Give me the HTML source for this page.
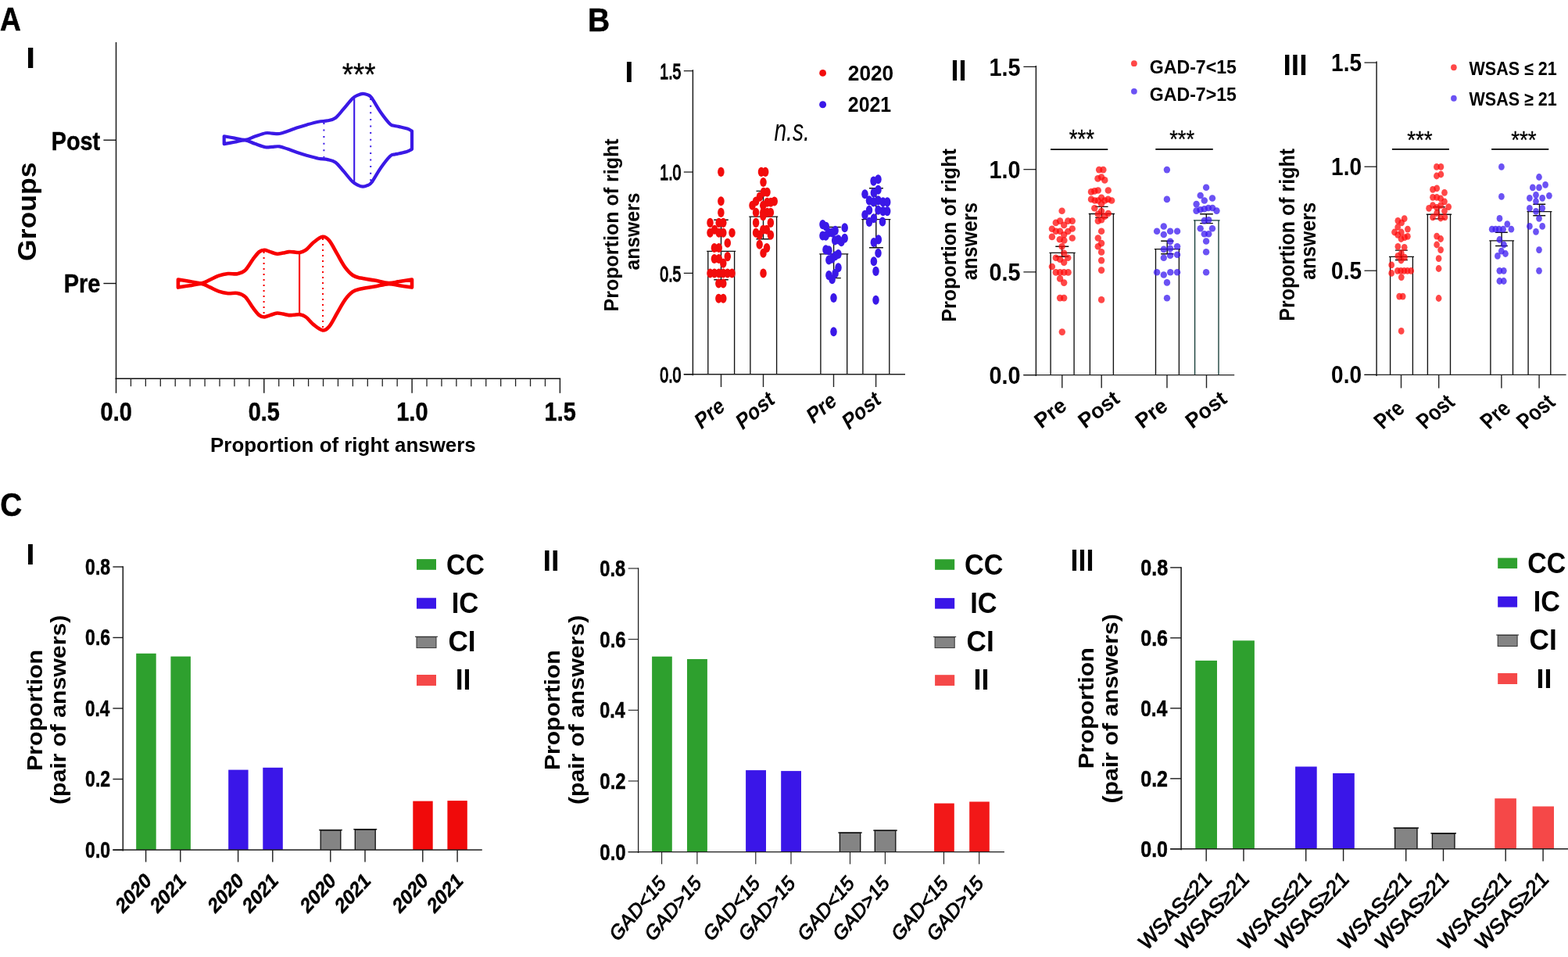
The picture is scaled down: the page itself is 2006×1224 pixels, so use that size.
<!DOCTYPE html>
<html lang="en"><head><meta charset="utf-8"><title>Figure</title>
<style>
html,body{margin:0;padding:0;background:#fff;}
body{width:2006px;height:1224px;overflow:hidden;}
svg{display:block;}
svg{font-family:"Liberation Sans",Arial,Helvetica,sans-serif;}
</style></head><body>
<svg xmlns="http://www.w3.org/2000/svg" width="2006" height="1224" viewBox="0 0 2006 1224" font-family="Liberation Sans, Arial, Helvetica, sans-serif" font-weight="bold" fill="#000">
<g id="panelA">
<text transform="translate(-0.07,39) scale(0.87,1)" font-size="42.62" stroke="#000" stroke-width="0.6">A</text>
<text transform="translate(33.02,87.1) scale(1.17,1)" font-size="37.67">I</text>
<path d="M148.5 54L148.5 484.95" fill="none" stroke="#111" stroke-width="1.4" />
<path d="M147.5 484.3L717.2 484.3" fill="none" stroke="#111" stroke-width="1.4" />
<path d="M148.5 484.3L148.5 502.8" fill="none" stroke="#111" stroke-width="1.4" />
<path d="M167.43 484.3L167.43 494.2" fill="none" stroke="#222" stroke-width="1.3" />
<path d="M186.36 484.3L186.36 494.2" fill="none" stroke="#222" stroke-width="1.3" />
<path d="M205.29 484.3L205.29 494.2" fill="none" stroke="#222" stroke-width="1.3" />
<path d="M224.22 484.3L224.22 494.2" fill="none" stroke="#222" stroke-width="1.3" />
<path d="M243.15 484.3L243.15 494.2" fill="none" stroke="#222" stroke-width="1.3" />
<path d="M262.08 484.3L262.08 494.2" fill="none" stroke="#222" stroke-width="1.3" />
<path d="M281.01 484.3L281.01 494.2" fill="none" stroke="#222" stroke-width="1.3" />
<path d="M299.94 484.3L299.94 494.2" fill="none" stroke="#222" stroke-width="1.3" />
<path d="M318.87 484.3L318.87 494.2" fill="none" stroke="#222" stroke-width="1.3" />
<path d="M337.8 484.3L337.8 502.8" fill="none" stroke="#111" stroke-width="1.4" />
<path d="M356.73 484.3L356.73 494.2" fill="none" stroke="#222" stroke-width="1.3" />
<path d="M375.66 484.3L375.66 494.2" fill="none" stroke="#222" stroke-width="1.3" />
<path d="M394.59 484.3L394.59 494.2" fill="none" stroke="#222" stroke-width="1.3" />
<path d="M413.52 484.3L413.52 494.2" fill="none" stroke="#222" stroke-width="1.3" />
<path d="M432.45 484.3L432.45 494.2" fill="none" stroke="#222" stroke-width="1.3" />
<path d="M451.38 484.3L451.38 494.2" fill="none" stroke="#222" stroke-width="1.3" />
<path d="M470.31 484.3L470.31 494.2" fill="none" stroke="#222" stroke-width="1.3" />
<path d="M489.24 484.3L489.24 494.2" fill="none" stroke="#222" stroke-width="1.3" />
<path d="M508.17 484.3L508.17 494.2" fill="none" stroke="#222" stroke-width="1.3" />
<path d="M527.1 484.3L527.1 502.8" fill="none" stroke="#111" stroke-width="1.4" />
<path d="M546.03 484.3L546.03 494.2" fill="none" stroke="#222" stroke-width="1.3" />
<path d="M564.96 484.3L564.96 494.2" fill="none" stroke="#222" stroke-width="1.3" />
<path d="M583.89 484.3L583.89 494.2" fill="none" stroke="#222" stroke-width="1.3" />
<path d="M602.82 484.3L602.82 494.2" fill="none" stroke="#222" stroke-width="1.3" />
<path d="M621.75 484.3L621.75 494.2" fill="none" stroke="#222" stroke-width="1.3" />
<path d="M640.68 484.3L640.68 494.2" fill="none" stroke="#222" stroke-width="1.3" />
<path d="M659.61 484.3L659.61 494.2" fill="none" stroke="#222" stroke-width="1.3" />
<path d="M678.54 484.3L678.54 494.2" fill="none" stroke="#222" stroke-width="1.3" />
<path d="M697.47 484.3L697.47 494.2" fill="none" stroke="#222" stroke-width="1.3" />
<path d="M716.4 484.3L716.4 502.8" fill="none" stroke="#111" stroke-width="1.4" />
<path d="M132.4 179.2L148.5 179.2" fill="none" stroke="#111" stroke-width="1.4" />
<path d="M132.4 362.5L148.5 362.5" fill="none" stroke="#111" stroke-width="1.4" />
<text transform="translate(65.86,191.51) scale(0.85,1)" font-size="33.84" stroke="#000" stroke-width="0.5">Post</text>
<text transform="translate(81.66,374.42) scale(0.87,1)" font-size="33.26" stroke="#000" stroke-width="0.5">Pre</text>
<text transform="translate(45.87,333.92) rotate(-90) scale(1.08,1)" font-size="32.93">Groups</text>
<text transform="translate(128.56,538.41) scale(0.86,1)" font-size="33.64" stroke="#000" stroke-width="0.5">0.0</text>
<text transform="translate(317.66,538.41) scale(0.86,1)" font-size="33.64" stroke="#000" stroke-width="0.5">0.5</text>
<text transform="translate(507.26,538.41) scale(0.86,1)" font-size="33.64" stroke="#000" stroke-width="0.5">1.0</text>
<text transform="translate(696.56,538.41) scale(0.86,1)" font-size="33.64" stroke="#000" stroke-width="0.5">1.5</text>
<text transform="translate(269.05,577.78) scale(0.98,1)" font-size="26.45">Proportion of right answers</text>
<text transform="translate(437.79,108.75) scale(0.91,1)" font-size="40.29" font-weight="normal" stroke="#000" stroke-width="0.3">***</text>
<path d="M286.7 174.3C288.92 174.68 295.5 175.83 300 176.6C304.5 177.37 309.37 179.23 313.7 178.9C318.03 178.57 321.68 176.05 326 174.6C330.32 173.15 335.93 170.87 339.6 170.2C343.27 169.53 345.02 170.47 348 170.6C350.98 170.73 354.17 171.47 357.5 171C360.83 170.53 364.33 169.03 368 167.8C371.67 166.57 375.33 165 379.5 163.6C383.67 162.2 388.35 160.72 393 159.4C397.65 158.08 403.02 156.55 407.4 155.7C411.78 154.85 415.65 155.13 419.3 154.3C422.95 153.47 425.97 153.13 429.3 150.7C432.63 148.27 435.65 143.85 439.3 139.7C442.95 135.55 448.08 128.82 451.2 125.8C454.32 122.78 455.83 122.6 458 121.6C460.17 120.6 462.2 119.87 464.2 119.8C466.2 119.73 468.17 120.37 470 121.2C471.83 122.03 472.35 121.05 475.2 124.8C478.05 128.55 483.12 138.05 487.1 143.7C491.08 149.35 496.12 155.83 499.1 158.7C502.08 161.57 503 160.33 505 160.9C507 161.47 508.43 161.48 511.1 162.1C513.77 162.72 518.35 163.68 521 164.6C523.65 165.52 526 167.1 527 167.6L527 190.8C526 191.3 523.65 192.88 521 193.8C518.35 194.72 513.77 195.68 511.1 196.3C508.43 196.92 507 196.93 505 197.5C503 198.07 502.08 196.83 499.1 199.7C496.12 202.57 491.08 209.05 487.1 214.7C483.12 220.35 478.05 229.85 475.2 233.6C472.35 237.35 471.83 236.37 470 237.2C468.17 238.03 466.2 238.67 464.2 238.6C462.2 238.53 460.17 237.8 458 236.8C455.83 235.8 454.32 235.62 451.2 232.6C448.08 229.58 442.95 222.85 439.3 218.7C435.65 214.55 432.63 210.13 429.3 207.7C425.97 205.27 422.95 204.93 419.3 204.1C415.65 203.27 411.78 203.55 407.4 202.7C403.02 201.85 397.65 200.32 393 199C388.35 197.68 383.67 196.2 379.5 194.8C375.33 193.4 371.67 191.83 368 190.6C364.33 189.37 360.83 187.87 357.5 187.4C354.17 186.93 350.98 187.67 348 187.8C345.02 187.93 343.27 188.87 339.6 188.2C335.93 187.53 330.32 185.25 326 183.8C321.68 182.35 318.03 179.83 313.7 179.5C309.37 179.17 304.5 181.03 300 181.8C295.5 182.57 288.92 183.72 286.7 184.1Z" fill="none" stroke="#3a19e6" stroke-width="4.2" stroke-linejoin="round"/>
<path d="M453.2 124.56L453.2 233.84" fill="none" stroke="#3a19e6" stroke-width="2.1" />
<path fill="none" d="M414.4 156.88L414.4 201.52" stroke="#3a19e6" stroke-width="2" stroke-dasharray="2 6.6"/>
<path fill="none" d="M474.2 126.11L474.2 232.29" stroke="#3a19e6" stroke-width="2" stroke-dasharray="2 6.6"/>
<path d="M227.9 357.6C230.42 358 238.02 359.22 243 360C247.98 360.78 253.63 362.62 257.8 362.3C261.97 361.98 264.33 359.72 268 358.1C271.67 356.48 275.85 353.95 279.8 352.6C283.75 351.25 287.72 350.4 291.7 350C295.68 349.6 300.03 350.93 303.7 350.2C307.37 349.47 310.38 348.7 313.7 345.6C317.02 342.5 320.62 335.52 323.6 331.6C326.58 327.68 329.17 324.08 331.6 322.1C334.03 320.12 335.87 319.7 338.2 319.7C340.53 319.7 342.88 321.27 345.6 322.1C348.32 322.93 351.77 324.45 354.5 324.7C357.23 324.95 359.5 324.03 362 323.6C364.5 323.17 367.17 322.3 369.5 322.1C371.83 321.9 373.67 322.27 376 322.4C378.33 322.53 380.93 323.35 383.5 322.9C386.07 322.45 388.42 321.88 391.4 319.7C394.38 317.52 397.83 312.62 401.4 309.8C404.97 306.98 409.48 303.13 412.8 302.8C416.12 302.47 418.22 304.15 421.3 307.8C424.38 311.45 427.97 319.07 431.3 324.7C434.63 330.33 437.98 337.05 441.3 341.6C444.62 346.15 447.88 349.67 451.2 352C454.52 354.33 456.53 354.5 461.2 355.6C465.87 356.7 473.22 357.52 479.2 358.6C485.18 359.68 491.78 361.87 497.1 362.1C502.42 362.33 506.12 360.75 511.1 360C516.08 359.25 524.35 358 527 357.6L527 367.6C524.35 367.2 516.08 365.95 511.1 365.2C506.12 364.45 502.42 362.87 497.1 363.1C491.78 363.33 485.18 365.52 479.2 366.6C473.22 367.68 465.87 368.5 461.2 369.6C456.53 370.7 454.52 370.87 451.2 373.2C447.88 375.53 444.62 379.05 441.3 383.6C437.98 388.15 434.63 394.87 431.3 400.5C427.97 406.13 424.38 413.75 421.3 417.4C418.22 421.05 416.12 422.73 412.8 422.4C409.48 422.07 404.97 418.22 401.4 415.4C397.83 412.58 394.38 407.68 391.4 405.5C388.42 403.32 386.07 402.75 383.5 402.3C380.93 401.85 378.33 402.67 376 402.8C373.67 402.93 371.83 403.3 369.5 403.1C367.17 402.9 364.5 402.03 362 401.6C359.5 401.17 357.23 400.25 354.5 400.5C351.77 400.75 348.32 402.27 345.6 403.1C342.88 403.93 340.53 405.5 338.2 405.5C335.87 405.5 334.03 405.08 331.6 403.1C329.17 401.12 326.58 397.52 323.6 393.6C320.62 389.68 317.02 382.7 313.7 379.6C310.38 376.5 307.37 375.73 303.7 375C300.03 374.27 295.68 375.6 291.7 375.2C287.72 374.8 283.75 373.95 279.8 372.6C275.85 371.25 271.67 368.72 268 367.1C264.33 365.48 261.97 363.22 257.8 362.9C253.63 362.58 247.98 364.42 243 365.2C238.02 365.98 230.42 367.2 227.9 367.6Z" fill="none" stroke="#f80000" stroke-width="4.6" stroke-linejoin="round"/>
<path d="M383.1 322.87L383.1 402.33" fill="none" stroke="#f80000" stroke-width="2.1" />
<path fill="none" d="M337.6 321.92L337.6 403.28" stroke="#f80000" stroke-width="2" stroke-dasharray="2 5"/>
<path fill="none" d="M413 304.92L413 420.28" stroke="#f80000" stroke-width="2" stroke-dasharray="2 5"/>
</g>
<g id="panelB">
<text transform="translate(752.11,39.65) scale(0.91,1)" font-size="42.76" stroke="#000" stroke-width="0.5">B</text>
<path fill="none" d="M905.8 478.75L905.8 321.3M939.6 478.75L939.6 321.3M904.2 321.3L941.2 321.3" stroke="#111" stroke-width="1.35"/>
<path fill="none" d="M959.9 478.75L959.9 277.1M993.6 478.75L993.6 277.1M958.3 277.1L995.2 277.1" stroke="#111" stroke-width="1.35"/>
<path fill="none" d="M1049.9 478.75L1049.9 324.8M1083.7 478.75L1083.7 324.8M1048.3 324.8L1085.3 324.8" stroke="#111" stroke-width="1.35"/>
<path fill="none" d="M1103.9 478.75L1103.9 280.6M1137.8 478.75L1137.8 280.6M1102.3 280.6L1139.4 280.6" stroke="#111" stroke-width="1.35"/>
<path fill="none" d="M922.5 281.2L922.5 357.8M913.3 281.2L931.8 281.2M913.3 357.8L931.8 357.8" stroke="#111" stroke-width="1.4"/>
<path fill="none" d="M976.5 244.4L976.5 305.8M967.5 244.4L985 244.4M967.5 305.8L985 305.8" stroke="#111" stroke-width="1.4"/>
<path fill="none" d="M1066.6 290.5L1066.6 355.6M1060.7 290.5L1075.8 290.5M1060.7 355.6L1075.8 355.6" stroke="#111" stroke-width="1.4"/>
<path fill="none" d="M1120.8 240.7L1120.8 316.8M1112 240.7L1129.9 240.7M1112 316.8L1129.9 316.8" stroke="#111" stroke-width="1.4"/>
<path d="M886.4 89.2L886.4 480.25" fill="none" stroke="#111" stroke-width="1.4" />
<path d="M874.8 478.75L1158 478.75" fill="none" stroke="#222" stroke-width="1.4" />
<path d="M874.8 478.75L886.4 478.75" fill="none" stroke="#111" stroke-width="1.2" />
<text transform="translate(844.3,488.87) scale(0.69,1)" font-size="28.27" font-weight="normal" stroke="#000" stroke-width="1.4">0.0</text>
<path d="M874.8 349.4L886.4 349.4" fill="none" stroke="#111" stroke-width="1.2" />
<text transform="translate(844.3,359.52) scale(0.69,1)" font-size="28.27" font-weight="normal" stroke="#000" stroke-width="1.4">0.5</text>
<path d="M874.8 220.05L886.4 220.05" fill="none" stroke="#111" stroke-width="1.2" />
<text transform="translate(844.3,230.17) scale(0.69,1)" font-size="28.27" font-weight="normal" stroke="#000" stroke-width="1.4">1.0</text>
<path d="M874.8 90.7L886.4 90.7" fill="none" stroke="#111" stroke-width="1.2" />
<text transform="translate(844.3,100.82) scale(0.69,1)" font-size="28.27" font-weight="normal" stroke="#000" stroke-width="1.4">1.5</text>
<path d="M922.5 478.75L922.5 495" fill="none" stroke="#222" stroke-width="1.4" />
<path d="M976.5 478.75L976.5 495" fill="none" stroke="#222" stroke-width="1.4" />
<path d="M1066.5 478.75L1066.5 495" fill="none" stroke="#222" stroke-width="1.4" />
<path d="M1120.6 478.75L1120.6 495" fill="none" stroke="#222" stroke-width="1.4" />
<g fill="#f20c0c"><ellipse cx="922.4" cy="219.9" rx="4.25" ry="6.05"/><ellipse cx="922.4" cy="257.2" rx="4.25" ry="6.05"/><ellipse cx="922.4" cy="271.9" rx="4.25" ry="6.05"/><ellipse cx="908.5" cy="284.9" rx="4.25" ry="6.05"/><ellipse cx="919.7" cy="284.9" rx="4.25" ry="6.05"/><ellipse cx="925.3" cy="284.9" rx="4.25" ry="6.05"/><ellipse cx="914.2" cy="293.8" rx="4.25" ry="6.05"/><ellipse cx="908.5" cy="297.7" rx="4.25" ry="6.05"/><ellipse cx="919.7" cy="297.7" rx="4.25" ry="6.05"/><ellipse cx="925.3" cy="297.7" rx="4.25" ry="6.05"/><ellipse cx="936.5" cy="297.7" rx="4.25" ry="6.05"/><ellipse cx="930.8" cy="310.8" rx="4.25" ry="6.05"/><ellipse cx="913.9" cy="317" rx="4.25" ry="6.05"/><ellipse cx="919.7" cy="317" rx="4.25" ry="6.05"/><ellipse cx="930.8" cy="328.1" rx="4.25" ry="6.05"/><ellipse cx="913.9" cy="331" rx="4.25" ry="6.05"/><ellipse cx="919.7" cy="331" rx="4.25" ry="6.05"/><ellipse cx="925.3" cy="336.6" rx="4.25" ry="6.05"/><ellipse cx="908.5" cy="349.5" rx="4.25" ry="6.05"/><ellipse cx="914" cy="349.5" rx="4.25" ry="6.05"/><ellipse cx="919.7" cy="349.5" rx="4.25" ry="6.05"/><ellipse cx="925.3" cy="349.5" rx="4.25" ry="6.05"/><ellipse cx="930.8" cy="349.5" rx="4.25" ry="6.05"/><ellipse cx="936.5" cy="349.5" rx="4.25" ry="6.05"/><ellipse cx="919.4" cy="362.5" rx="4.25" ry="6.05"/><ellipse cx="925.3" cy="362.5" rx="4.25" ry="6.05"/><ellipse cx="919.4" cy="381.8" rx="4.25" ry="6.05"/><ellipse cx="925.3" cy="381.8" rx="4.25" ry="6.05"/></g>
<g fill="#f20c0c"><ellipse cx="974" cy="219.9" rx="4.25" ry="6.05"/><ellipse cx="979.2" cy="219.9" rx="4.25" ry="6.05"/><ellipse cx="976.5" cy="233" rx="4.25" ry="6.05"/><ellipse cx="976.9" cy="245.8" rx="4.25" ry="6.05"/><ellipse cx="981.5" cy="245.8" rx="4.25" ry="6.05"/><ellipse cx="972" cy="251.6" rx="4.25" ry="6.05"/><ellipse cx="967.1" cy="257.5" rx="4.25" ry="6.05"/><ellipse cx="990.7" cy="257.5" rx="4.25" ry="6.05"/><ellipse cx="981.5" cy="258.8" rx="4.25" ry="6.05"/><ellipse cx="986.1" cy="258.8" rx="4.25" ry="6.05"/><ellipse cx="962.5" cy="262.7" rx="4.25" ry="6.05"/><ellipse cx="976.3" cy="262.7" rx="4.25" ry="6.05"/><ellipse cx="967.1" cy="271.7" rx="4.25" ry="6.05"/><ellipse cx="976.3" cy="271.7" rx="4.25" ry="6.05"/><ellipse cx="981.5" cy="271.7" rx="4.25" ry="6.05"/><ellipse cx="985.9" cy="271.7" rx="4.25" ry="6.05"/><ellipse cx="976.3" cy="276.1" rx="4.25" ry="6.05"/><ellipse cx="967.1" cy="284.9" rx="4.25" ry="6.05"/><ellipse cx="985.9" cy="284.9" rx="4.25" ry="6.05"/><ellipse cx="976.3" cy="293.8" rx="4.25" ry="6.05"/><ellipse cx="980.8" cy="293.8" rx="4.25" ry="6.05"/><ellipse cx="967.1" cy="297.7" rx="4.25" ry="6.05"/><ellipse cx="971.7" cy="300.6" rx="4.25" ry="6.05"/><ellipse cx="985.9" cy="300.6" rx="4.25" ry="6.05"/><ellipse cx="971.7" cy="312.7" rx="4.25" ry="6.05"/><ellipse cx="981" cy="317" rx="4.25" ry="6.05"/><ellipse cx="976.5" cy="323.8" rx="4.25" ry="6.05"/><ellipse cx="976.5" cy="349.5" rx="4.25" ry="6.05"/></g>
<g fill="#3a18e8"><ellipse cx="1052.5" cy="287.1" rx="4.25" ry="6.05"/><ellipse cx="1056.8" cy="289.7" rx="4.25" ry="6.05"/><ellipse cx="1068.6" cy="294.9" rx="4.25" ry="6.05"/><ellipse cx="1080.7" cy="291.3" rx="4.25" ry="6.05"/><ellipse cx="1060.4" cy="297.5" rx="4.25" ry="6.05"/><ellipse cx="1064.6" cy="297.5" rx="4.25" ry="6.05"/><ellipse cx="1052.5" cy="301.5" rx="4.25" ry="6.05"/><ellipse cx="1056.5" cy="301.8" rx="4.25" ry="6.05"/><ellipse cx="1080.7" cy="304.7" rx="4.25" ry="6.05"/><ellipse cx="1068.2" cy="307.4" rx="4.25" ry="6.05"/><ellipse cx="1072.5" cy="306.4" rx="4.25" ry="6.05"/><ellipse cx="1076.4" cy="309.3" rx="4.25" ry="6.05"/><ellipse cx="1056.5" cy="319.4" rx="4.25" ry="6.05"/><ellipse cx="1060.4" cy="320.4" rx="4.25" ry="6.05"/><ellipse cx="1072.5" cy="325" rx="4.25" ry="6.05"/><ellipse cx="1068.6" cy="327.3" rx="4.25" ry="6.05"/><ellipse cx="1064.6" cy="330.6" rx="4.25" ry="6.05"/><ellipse cx="1060.4" cy="332.5" rx="4.25" ry="6.05"/><ellipse cx="1072.5" cy="342.2" rx="4.25" ry="6.05"/><ellipse cx="1068.6" cy="349.7" rx="4.25" ry="6.05"/><ellipse cx="1060.4" cy="352.1" rx="4.25" ry="6.05"/><ellipse cx="1064.6" cy="357.3" rx="4.25" ry="6.05"/><ellipse cx="1066.5" cy="381" rx="4.25" ry="6.05"/><ellipse cx="1066.5" cy="424.2" rx="4.25" ry="6.05"/></g>
<g fill="#3a18e8"><ellipse cx="1117.6" cy="231.6" rx="4.25" ry="6.05"/><ellipse cx="1123.5" cy="229.3" rx="4.25" ry="6.05"/><ellipse cx="1123.5" cy="242.7" rx="4.25" ry="6.05"/><ellipse cx="1117.9" cy="246.6" rx="4.25" ry="6.05"/><ellipse cx="1106.5" cy="248.2" rx="4.25" ry="6.05"/><ellipse cx="1112" cy="256.4" rx="4.25" ry="6.05"/><ellipse cx="1123.5" cy="256.4" rx="4.25" ry="6.05"/><ellipse cx="1117.6" cy="258.4" rx="4.25" ry="6.05"/><ellipse cx="1129.7" cy="258.4" rx="4.25" ry="6.05"/><ellipse cx="1135.2" cy="258.4" rx="4.25" ry="6.05"/><ellipse cx="1112" cy="268.8" rx="4.25" ry="6.05"/><ellipse cx="1123.5" cy="268.8" rx="4.25" ry="6.05"/><ellipse cx="1129.7" cy="270.1" rx="4.25" ry="6.05"/><ellipse cx="1135.2" cy="270.1" rx="4.25" ry="6.05"/><ellipse cx="1106.5" cy="274.7" rx="4.25" ry="6.05"/><ellipse cx="1117.9" cy="279.3" rx="4.25" ry="6.05"/><ellipse cx="1112" cy="283.9" rx="4.25" ry="6.05"/><ellipse cx="1129" cy="283.5" rx="4.25" ry="6.05"/><ellipse cx="1123.8" cy="306.4" rx="4.25" ry="6.05"/><ellipse cx="1117.9" cy="310" rx="4.25" ry="6.05"/><ellipse cx="1123.5" cy="323.7" rx="4.25" ry="6.05"/><ellipse cx="1117.9" cy="334.2" rx="4.25" ry="6.05"/><ellipse cx="1120.5" cy="346.9" rx="4.25" ry="6.05"/><ellipse cx="1120.5" cy="383.8" rx="4.25" ry="6.05"/></g>
<text transform="translate(896.6,550.25) scale(0.81,1) rotate(-34.3)" font-size="29.5">Pre</text>
<text transform="translate(949.2,551.05) scale(0.81,1) rotate(-34.3)" font-size="29.5">Post</text>
<text transform="translate(1039.7,543.35) scale(0.81,1) rotate(-34.3)" font-size="29.5">Pre</text>
<text transform="translate(1085.2,551.05) scale(0.81,1) rotate(-34.3)" font-size="29.5">Post</text>
<g fill="#f20c0c"><circle cx="1052.6" cy="93.4" r="4.4"/></g>
<g fill="#3a18e8"><circle cx="1052.6" cy="133.8" r="4.5"/></g>
<text transform="translate(1084.78,103.31) scale(0.92,1)" font-size="28.55">2020</text>
<text transform="translate(1084.83,143.02) scale(0.88,1)" font-size="28.27">2021</text>
<text transform="translate(990.41,180.02) scale(0.74,1)" font-size="38.17" font-weight="normal" font-style="italic">n.s.</text>
<text transform="translate(799.35,105) scale(1.08,1)" font-size="37.53">I</text>
<text transform="translate(790.6,398.39) rotate(-90) scale(0.97,1)" font-size="25.8">Proportion of right</text>
<text transform="translate(817.8,345.44) rotate(-90) scale(0.95,1)" font-size="26">answers</text>
<path fill="none" d="M1344.1 479.6L1344.1 323.4M1374.1 479.6L1374.1 323.4M1342.5 323.4L1375.7 323.4" stroke="#111" stroke-width="1.35"/>
<path fill="none" d="M1394.4 479.6L1394.4 273.5M1424.4 479.6L1424.4 273.5M1392.8 273.5L1426 273.5" stroke="#111" stroke-width="1.35"/>
<path fill="none" d="M1478.5 479.6L1478.5 318.6M1508.4 479.6L1508.4 318.6M1476.9 318.6L1510 318.6" stroke="#111" stroke-width="1.35"/>
<path fill="none" d="M1528.6 479.6L1528.6 281.9M1559 479.6L1559 281.9M1527 281.9L1560.6 281.9" stroke="#173d38" stroke-width="1.35"/>
<path fill="none" d="M1358.6 315.3L1358.6 328.2M1350.3 315.3L1367.3 315.3M1350.3 328.2L1367.3 328.2" stroke="#111" stroke-width="1.4"/>
<path fill="none" d="M1409.3 264.4L1409.3 278.4M1401.2 264.4L1417.6 264.4M1401.2 278.4L1417.6 278.4" stroke="#111" stroke-width="1.4"/>
<path fill="none" d="M1493.2 308.3L1493.2 324.8M1485.2 308.3L1501.5 308.3M1485.2 324.8L1501.5 324.8" stroke="#111" stroke-width="1.4"/>
<path fill="none" d="M1543.3 273.8L1543.3 285.6M1535.2 273.8L1551.8 273.8M1535.2 285.6L1551.8 285.6" stroke="#111" stroke-width="1.4"/>
<path d="M1325.4 83.9L1325.4 481.1" fill="none" stroke="#111" stroke-width="1.4" />
<path d="M1309.4 479.6L1579.2 479.6" fill="none" stroke="#222" stroke-width="1.4" />
<path d="M1309.4 479.6L1325.4 479.6" fill="none" stroke="#111" stroke-width="1.2" />
<text transform="translate(1265.44,491.08) scale(0.91,1)" font-size="31.66">0.0</text>
<path d="M1309.4 347.9L1325.4 347.9" fill="none" stroke="#111" stroke-width="1.2" />
<text transform="translate(1265.44,359.38) scale(0.91,1)" font-size="31.66">0.5</text>
<path d="M1309.4 216.7L1325.4 216.7" fill="none" stroke="#111" stroke-width="1.2" />
<text transform="translate(1265.44,228.18) scale(0.91,1)" font-size="31.66">1.0</text>
<path d="M1309.4 85.4L1325.4 85.4" fill="none" stroke="#111" stroke-width="1.2" />
<text transform="translate(1265.44,96.88) scale(0.91,1)" font-size="31.66">1.5</text>
<path d="M1358.8 479.6L1358.8 496.3" fill="none" stroke="#222" stroke-width="1.4" />
<path d="M1409.2 479.6L1409.2 496.3" fill="none" stroke="#222" stroke-width="1.4" />
<path d="M1493 479.6L1493 496.3" fill="none" stroke="#222" stroke-width="1.4" />
<path d="M1543.5 479.6L1543.5 496.3" fill="none" stroke="#222" stroke-width="1.4" />
<g fill="#ff0a0a" fill-opacity="0.75"><ellipse cx="1358.6" cy="269.7" rx="4.2" ry="4.3"/><ellipse cx="1356.1" cy="282.6" rx="4.2" ry="4.3"/><ellipse cx="1350.8" cy="284.9" rx="4.2" ry="4.3"/><ellipse cx="1366.3" cy="282.6" rx="4.2" ry="4.3"/><ellipse cx="1371.8" cy="282.6" rx="4.2" ry="4.3"/><ellipse cx="1361.2" cy="287.9" rx="4.2" ry="4.3"/><ellipse cx="1345.9" cy="292.8" rx="4.2" ry="4.3"/><ellipse cx="1371.8" cy="292.5" rx="4.2" ry="4.3"/><ellipse cx="1350.8" cy="295.7" rx="4.2" ry="4.3"/><ellipse cx="1356.1" cy="295.7" rx="4.2" ry="4.3"/><ellipse cx="1366.3" cy="296" rx="4.2" ry="4.3"/><ellipse cx="1361.2" cy="300.3" rx="4.2" ry="4.3"/><ellipse cx="1345.9" cy="302.9" rx="4.2" ry="4.3"/><ellipse cx="1371.8" cy="304.5" rx="4.2" ry="4.3"/><ellipse cx="1355.8" cy="306.2" rx="4.2" ry="4.3"/><ellipse cx="1361.4" cy="307.5" rx="4.2" ry="4.3"/><ellipse cx="1358.6" cy="315.3" rx="4.2" ry="4.3"/><ellipse cx="1361.2" cy="323.8" rx="4.2" ry="4.3"/><ellipse cx="1350.8" cy="329.7" rx="4.2" ry="4.3"/><ellipse cx="1366.3" cy="329.7" rx="4.2" ry="4.3"/><ellipse cx="1356.1" cy="331.7" rx="4.2" ry="4.3"/><ellipse cx="1361.2" cy="335.6" rx="4.2" ry="4.3"/><ellipse cx="1345.9" cy="341" rx="4.2" ry="4.3"/><ellipse cx="1350.8" cy="348.4" rx="4.2" ry="4.3"/><ellipse cx="1356.1" cy="348.4" rx="4.2" ry="4.3"/><ellipse cx="1361.2" cy="348.4" rx="4.2" ry="4.3"/><ellipse cx="1366.6" cy="348.4" rx="4.2" ry="4.3"/><ellipse cx="1356.1" cy="356.4" rx="4.2" ry="4.3"/><ellipse cx="1361.2" cy="361.6" rx="4.2" ry="4.3"/><ellipse cx="1356.1" cy="381.1" rx="4.2" ry="4.3"/><ellipse cx="1361.2" cy="381.1" rx="4.2" ry="4.3"/><ellipse cx="1358.8" cy="424.6" rx="4.2" ry="4.3"/></g>
<g fill="#ff0a0a" fill-opacity="0.75"><ellipse cx="1406.1" cy="217.1" rx="4.2" ry="4.3"/><ellipse cx="1411.4" cy="217.1" rx="4.2" ry="4.3"/><ellipse cx="1409.1" cy="226.5" rx="4.2" ry="4.3"/><ellipse cx="1404.5" cy="228.4" rx="4.2" ry="4.3"/><ellipse cx="1413.3" cy="230.4" rx="4.2" ry="4.3"/><ellipse cx="1396" cy="245.4" rx="4.2" ry="4.3"/><ellipse cx="1400.3" cy="244.4" rx="4.2" ry="4.3"/><ellipse cx="1404.8" cy="243.5" rx="4.2" ry="4.3"/><ellipse cx="1417.8" cy="243.5" rx="4.2" ry="4.3"/><ellipse cx="1409.1" cy="252.9" rx="4.2" ry="4.3"/><ellipse cx="1396" cy="254.9" rx="4.2" ry="4.3"/><ellipse cx="1417.6" cy="254.9" rx="4.2" ry="4.3"/><ellipse cx="1400.6" cy="256.5" rx="4.2" ry="4.3"/><ellipse cx="1404.8" cy="256.5" rx="4.2" ry="4.3"/><ellipse cx="1413.3" cy="256.5" rx="4.2" ry="4.3"/><ellipse cx="1422.2" cy="256.5" rx="4.2" ry="4.3"/><ellipse cx="1409.1" cy="260.8" rx="4.2" ry="4.3"/><ellipse cx="1400.3" cy="266.2" rx="4.2" ry="4.3"/><ellipse cx="1409.1" cy="270.1" rx="4.2" ry="4.3"/><ellipse cx="1404.8" cy="273.8" rx="4.2" ry="4.3"/><ellipse cx="1417.8" cy="273" rx="4.2" ry="4.3"/><ellipse cx="1413.3" cy="276.8" rx="4.2" ry="4.3"/><ellipse cx="1409.1" cy="281.3" rx="4.2" ry="4.3"/><ellipse cx="1404.8" cy="282.6" rx="4.2" ry="4.3"/><ellipse cx="1409.1" cy="295.7" rx="4.2" ry="4.3"/><ellipse cx="1404.8" cy="304.5" rx="4.2" ry="4.3"/><ellipse cx="1409.1" cy="311.1" rx="4.2" ry="4.3"/><ellipse cx="1404.8" cy="315.3" rx="4.2" ry="4.3"/><ellipse cx="1409.1" cy="322.4" rx="4.2" ry="4.3"/><ellipse cx="1409.1" cy="333.1" rx="4.2" ry="4.3"/><ellipse cx="1409.1" cy="345.6" rx="4.2" ry="4.3"/><ellipse cx="1409.1" cy="383.4" rx="4.2" ry="4.3"/></g>
<g fill="#3a18f0" fill-opacity="0.75"><ellipse cx="1492.9" cy="217.1" rx="4.2" ry="4.3"/><ellipse cx="1492.9" cy="254.9" rx="4.2" ry="4.3"/><ellipse cx="1488.8" cy="289.5" rx="4.2" ry="4.3"/><ellipse cx="1480.1" cy="295.8" rx="4.2" ry="4.3"/><ellipse cx="1497.1" cy="295.8" rx="4.2" ry="4.3"/><ellipse cx="1506.1" cy="295.8" rx="4.2" ry="4.3"/><ellipse cx="1488.8" cy="300" rx="4.2" ry="4.3"/><ellipse cx="1497.1" cy="308.9" rx="4.2" ry="4.3"/><ellipse cx="1506.1" cy="315.3" rx="4.2" ry="4.3"/><ellipse cx="1497.1" cy="317.9" rx="4.2" ry="4.3"/><ellipse cx="1488.8" cy="318.9" rx="4.2" ry="4.3"/><ellipse cx="1506.1" cy="325.8" rx="4.2" ry="4.3"/><ellipse cx="1497.1" cy="326.8" rx="4.2" ry="4.3"/><ellipse cx="1488.8" cy="329.7" rx="4.2" ry="4.3"/><ellipse cx="1480.1" cy="348.3" rx="4.2" ry="4.3"/><ellipse cx="1497.3" cy="348.3" rx="4.2" ry="4.3"/><ellipse cx="1506.1" cy="348.3" rx="4.2" ry="4.3"/><ellipse cx="1488.8" cy="351.5" rx="4.2" ry="4.3"/><ellipse cx="1493" cy="361.4" rx="4.2" ry="4.3"/><ellipse cx="1493" cy="381.2" rx="4.2" ry="4.3"/></g>
<g fill="#3a18f0" fill-opacity="0.75"><ellipse cx="1543.1" cy="239.7" rx="4.2" ry="4.3"/><ellipse cx="1535.7" cy="250" rx="4.2" ry="4.3"/><ellipse cx="1551" cy="253.5" rx="4.2" ry="4.3"/><ellipse cx="1540.8" cy="256.5" rx="4.2" ry="4.3"/><ellipse cx="1530.6" cy="261.1" rx="4.2" ry="4.3"/><ellipse cx="1545.9" cy="266" rx="4.2" ry="4.3"/><ellipse cx="1551.2" cy="266" rx="4.2" ry="4.3"/><ellipse cx="1540.7" cy="267.3" rx="4.2" ry="4.3"/><ellipse cx="1535.5" cy="268.3" rx="4.2" ry="4.3"/><ellipse cx="1530.5" cy="269.6" rx="4.2" ry="4.3"/><ellipse cx="1556.5" cy="269.6" rx="4.2" ry="4.3"/><ellipse cx="1540.8" cy="282.1" rx="4.2" ry="4.3"/><ellipse cx="1546.3" cy="281.3" rx="4.2" ry="4.3"/><ellipse cx="1535.7" cy="292.3" rx="4.2" ry="4.3"/><ellipse cx="1551" cy="292.3" rx="4.2" ry="4.3"/><ellipse cx="1540.8" cy="299.3" rx="4.2" ry="4.3"/><ellipse cx="1546.3" cy="299.3" rx="4.2" ry="4.3"/><ellipse cx="1543.1" cy="308.5" rx="4.2" ry="4.3"/><ellipse cx="1543.1" cy="322.3" rx="4.2" ry="4.3"/><ellipse cx="1543.1" cy="348.3" rx="4.2" ry="4.3"/></g>
<text transform="translate(1332.1,549) scale(0.98,1) rotate(-37.2)" font-size="27.3">Pre</text>
<text transform="translate(1388,549) scale(0.98,1) rotate(-37.2)" font-size="27.3">Post</text>
<text transform="translate(1461.2,549.3) scale(0.98,1) rotate(-37.2)" font-size="27.3">Pre</text>
<text transform="translate(1525.3,549.3) scale(0.98,1) rotate(-37.2)" font-size="27.3">Post</text>
<g fill="#ff0a0a" fill-opacity="0.75"><circle cx="1450.9" cy="81.2" r="3.9"/></g>
<g fill="#3a18f0" fill-opacity="0.75"><circle cx="1450.9" cy="116.8" r="3.9"/></g>
<text transform="translate(1470.77,93.76) scale(0.98,1)" font-size="23.6">GAD-7&lt;15</text>
<text transform="translate(1470.77,129.06) scale(0.98,1)" font-size="23.6">GAD-7&gt;15</text>
<path d="M1344 191.1L1417.3 191.1" fill="none" stroke="#000" stroke-width="1.7" />
<path d="M1478.3 190.8L1551.8 190.8" fill="none" stroke="#000" stroke-width="1.7" />
<text transform="translate(1367.64,188.55) scale(0.86,1)" font-size="32.29" font-weight="normal" stroke="#000" stroke-width="0.3">***</text>
<text transform="translate(1496.15,188.55) scale(0.85,1)" font-size="32.29" font-weight="normal" stroke="#000" stroke-width="0.3">***</text>
<text transform="translate(1216.56,103) scale(0.98,1)" font-size="36.8">II</text>
<text transform="translate(1222.7,411.79) rotate(-90) scale(0.94,1)" font-size="26.7">Proportion of right</text>
<text transform="translate(1250.3,358.35) rotate(-90) scale(0.92,1)" font-size="27">answers</text>
<path fill="none" d="M1778.6 479.4L1778.6 328.4M1807.4 479.4L1807.4 328.4M1777 328.4L1809 328.4" stroke="#111" stroke-width="1.35"/>
<path fill="none" d="M1826.4 479.4L1826.4 274.2M1855.5 479.4L1855.5 274.2M1824.8 274.2L1857.1 274.2" stroke="#111" stroke-width="1.35"/>
<path fill="none" d="M1906.9 479.4L1906.9 307.8M1935.5 479.4L1935.5 307.8M1905.3 307.8L1937.1 307.8" stroke="#111" stroke-width="1.35"/>
<path fill="none" d="M1955.1 479.4L1955.1 270.6M1983.8 479.4L1983.8 270.6M1953.5 270.6L1985.4 270.6" stroke="#111" stroke-width="1.35"/>
<path fill="none" d="M1792.6 320.1L1792.6 332.5M1784.9 320.1L1800.8 320.1M1784.9 332.5L1800.8 332.5" stroke="#111" stroke-width="1.4"/>
<path fill="none" d="M1840.8 264.7L1840.8 279.9M1833 264.7L1848.7 264.7M1833 279.9L1848.7 279.9" stroke="#111" stroke-width="1.4"/>
<path fill="none" d="M1921.1 297.2L1921.1 314.5M1913.1 297.2L1928.8 297.2M1913.1 314.5L1928.8 314.5" stroke="#111" stroke-width="1.4"/>
<path fill="none" d="M1969.5 261.3L1969.5 275.8M1961.3 261.3L1977.2 261.3M1961.3 275.8L1977.2 275.8" stroke="#111" stroke-width="1.4"/>
<path d="M1761.1 78.6L1761.1 480.9" fill="none" stroke="#111" stroke-width="1.4" />
<path d="M1745.5 479.4L2003.6 479.4" fill="none" stroke="#222" stroke-width="1.4" />
<path d="M1745.5 479.4L1761.1 479.4" fill="none" stroke="#111" stroke-width="1.2" />
<text transform="translate(1703.08,490.48) scale(0.88,1)" font-size="31.8">0.0</text>
<path d="M1745.5 346.2L1761.1 346.2" fill="none" stroke="#111" stroke-width="1.2" />
<text transform="translate(1703.08,357.28) scale(0.88,1)" font-size="31.8">0.5</text>
<path d="M1745.5 213.2L1761.1 213.2" fill="none" stroke="#111" stroke-width="1.2" />
<text transform="translate(1703.08,224.28) scale(0.88,1)" font-size="31.8">1.0</text>
<path d="M1745.5 80.1L1761.1 80.1" fill="none" stroke="#111" stroke-width="1.2" />
<text transform="translate(1703.08,91.18) scale(0.88,1)" font-size="31.8">1.5</text>
<path d="M1792.5 479.4L1792.5 496.4" fill="none" stroke="#222" stroke-width="1.4" />
<path d="M1840.7 479.4L1840.7 496.4" fill="none" stroke="#222" stroke-width="1.4" />
<path d="M1920.9 479.4L1920.9 496.4" fill="none" stroke="#222" stroke-width="1.4" />
<path d="M1969.1 479.4L1969.1 496.4" fill="none" stroke="#222" stroke-width="1.4" />
<g fill="#ff0a0a" fill-opacity="0.75"><ellipse cx="1796.7" cy="279.7" rx="3.85" ry="4.4"/><ellipse cx="1788.4" cy="282.3" rx="3.85" ry="4.4"/><ellipse cx="1793.1" cy="284.9" rx="3.85" ry="4.4"/><ellipse cx="1788.2" cy="290.5" rx="3.85" ry="4.4"/><ellipse cx="1800.9" cy="293.1" rx="3.85" ry="4.4"/><ellipse cx="1784" cy="297" rx="3.85" ry="4.4"/><ellipse cx="1792.8" cy="297" rx="3.85" ry="4.4"/><ellipse cx="1788.2" cy="300.3" rx="3.85" ry="4.4"/><ellipse cx="1800.9" cy="302.3" rx="3.85" ry="4.4"/><ellipse cx="1797" cy="303.6" rx="3.85" ry="4.4"/><ellipse cx="1792.5" cy="305.5" rx="3.85" ry="4.4"/><ellipse cx="1788.4" cy="315.3" rx="3.85" ry="4.4"/><ellipse cx="1796.7" cy="316.3" rx="3.85" ry="4.4"/><ellipse cx="1792.8" cy="323.8" rx="3.85" ry="4.4"/><ellipse cx="1788.4" cy="327.4" rx="3.85" ry="4.4"/><ellipse cx="1797" cy="329.1" rx="3.85" ry="4.4"/><ellipse cx="1792.5" cy="333" rx="3.85" ry="4.4"/><ellipse cx="1780.2" cy="338.9" rx="3.85" ry="4.4"/><ellipse cx="1787.9" cy="346.4" rx="3.85" ry="4.4"/><ellipse cx="1792.1" cy="346.4" rx="3.85" ry="4.4"/><ellipse cx="1796.4" cy="346.4" rx="3.85" ry="4.4"/><ellipse cx="1800.6" cy="346.4" rx="3.85" ry="4.4"/><ellipse cx="1805.2" cy="346.4" rx="3.85" ry="4.4"/><ellipse cx="1780.2" cy="349.4" rx="3.85" ry="4.4"/><ellipse cx="1792.8" cy="354.6" rx="3.85" ry="4.4"/><ellipse cx="1790.2" cy="379.1" rx="3.85" ry="4.4"/><ellipse cx="1794.7" cy="379.1" rx="3.85" ry="4.4"/><ellipse cx="1792.7" cy="423.4" rx="3.85" ry="4.4"/></g>
<g fill="#ff0a0a" fill-opacity="0.75"><ellipse cx="1837.9" cy="213.4" rx="3.85" ry="4.4"/><ellipse cx="1843.4" cy="213.4" rx="3.85" ry="4.4"/><ellipse cx="1843.4" cy="223" rx="3.85" ry="4.4"/><ellipse cx="1837.9" cy="225" rx="3.85" ry="4.4"/><ellipse cx="1838.2" cy="240.8" rx="3.85" ry="4.4"/><ellipse cx="1833" cy="242.4" rx="3.85" ry="4.4"/><ellipse cx="1848" cy="246.4" rx="3.85" ry="4.4"/><ellipse cx="1833" cy="252.3" rx="3.85" ry="4.4"/><ellipse cx="1838.1" cy="252.3" rx="3.85" ry="4.4"/><ellipse cx="1843.1" cy="253.9" rx="3.85" ry="4.4"/><ellipse cx="1848" cy="257.8" rx="3.85" ry="4.4"/><ellipse cx="1833" cy="262.7" rx="3.85" ry="4.4"/><ellipse cx="1843.1" cy="262.7" rx="3.85" ry="4.4"/><ellipse cx="1853.2" cy="264.6" rx="3.85" ry="4.4"/><ellipse cx="1838.1" cy="265.4" rx="3.85" ry="4.4"/><ellipse cx="1828.1" cy="266.3" rx="3.85" ry="4.4"/><ellipse cx="1848" cy="269.9" rx="3.85" ry="4.4"/><ellipse cx="1838.1" cy="272.5" rx="3.85" ry="4.4"/><ellipse cx="1833" cy="277.8" rx="3.85" ry="4.4"/><ellipse cx="1843.1" cy="279" rx="3.85" ry="4.4"/><ellipse cx="1848.5" cy="277.8" rx="3.85" ry="4.4"/><ellipse cx="1838.1" cy="302.1" rx="3.85" ry="4.4"/><ellipse cx="1843.1" cy="305.5" rx="3.85" ry="4.4"/><ellipse cx="1838.1" cy="313" rx="3.85" ry="4.4"/><ellipse cx="1843.1" cy="319.6" rx="3.85" ry="4.4"/><ellipse cx="1840.6" cy="330.6" rx="3.85" ry="4.4"/><ellipse cx="1840.6" cy="343.5" rx="3.85" ry="4.4"/><ellipse cx="1840.6" cy="381.5" rx="3.85" ry="4.4"/></g>
<g fill="#3a18f0" fill-opacity="0.75"><ellipse cx="1920.9" cy="213.4" rx="3.85" ry="4.4"/><ellipse cx="1920.9" cy="251.4" rx="3.85" ry="4.4"/><ellipse cx="1918.5" cy="279.4" rx="3.85" ry="4.4"/><ellipse cx="1928.3" cy="286.6" rx="3.85" ry="4.4"/><ellipse cx="1908.7" cy="293.2" rx="3.85" ry="4.4"/><ellipse cx="1913.3" cy="293.2" rx="3.85" ry="4.4"/><ellipse cx="1917.8" cy="293.2" rx="3.85" ry="4.4"/><ellipse cx="1923.1" cy="293.2" rx="3.85" ry="4.4"/><ellipse cx="1933.4" cy="293.2" rx="3.85" ry="4.4"/><ellipse cx="1918.4" cy="306.5" rx="3.85" ry="4.4"/><ellipse cx="1924" cy="313" rx="3.85" ry="4.4"/><ellipse cx="1920.8" cy="321.2" rx="3.85" ry="4.4"/><ellipse cx="1926" cy="324.5" rx="3.85" ry="4.4"/><ellipse cx="1915.9" cy="327.4" rx="3.85" ry="4.4"/><ellipse cx="1918.4" cy="346.3" rx="3.85" ry="4.4"/><ellipse cx="1923.8" cy="346.3" rx="3.85" ry="4.4"/><ellipse cx="1918.4" cy="359.5" rx="3.85" ry="4.4"/><ellipse cx="1923.8" cy="359.5" rx="3.85" ry="4.4"/></g>
<g fill="#3a18f0" fill-opacity="0.75"><ellipse cx="1969" cy="226.5" rx="3.85" ry="4.4"/><ellipse cx="1977.1" cy="236.3" rx="3.85" ry="4.4"/><ellipse cx="1960.8" cy="239.9" rx="3.85" ry="4.4"/><ellipse cx="1969" cy="239.9" rx="3.85" ry="4.4"/><ellipse cx="1965" cy="249.3" rx="3.85" ry="4.4"/><ellipse cx="1981.9" cy="250.3" rx="3.85" ry="4.4"/><ellipse cx="1956.9" cy="253.3" rx="3.85" ry="4.4"/><ellipse cx="1973.2" cy="253.3" rx="3.85" ry="4.4"/><ellipse cx="1965" cy="257.5" rx="3.85" ry="4.4"/><ellipse cx="1956.9" cy="266.3" rx="3.85" ry="4.4"/><ellipse cx="1973.2" cy="266.3" rx="3.85" ry="4.4"/><ellipse cx="1965" cy="270.3" rx="3.85" ry="4.4"/><ellipse cx="1969" cy="279.4" rx="3.85" ry="4.4"/><ellipse cx="1956.9" cy="289.4" rx="3.85" ry="4.4"/><ellipse cx="1973.2" cy="289.4" rx="3.85" ry="4.4"/><ellipse cx="1965" cy="296.4" rx="3.85" ry="4.4"/><ellipse cx="1969" cy="319.6" rx="3.85" ry="4.4"/><ellipse cx="1969" cy="346.3" rx="3.85" ry="4.4"/></g>
<text transform="translate(1769.1,550) scale(1.07,1) rotate(-41.8) scale(0.82,1)" font-size="28">Pre</text>
<text transform="translate(1823.2,550) scale(1.07,1) rotate(-41.8) scale(0.82,1)" font-size="28">Post</text>
<text transform="translate(1905,550) scale(1.07,1) rotate(-41.8) scale(0.82,1)" font-size="28">Pre</text>
<text transform="translate(1951.6,550) scale(1.07,1) rotate(-41.8) scale(0.82,1)" font-size="28">Post</text>
<g fill="#ff0a0a" fill-opacity="0.75"><ellipse cx="1859.9" cy="86.2" rx="3.8" ry="4"/></g>
<g fill="#3a18f0" fill-opacity="0.75"><ellipse cx="1859.9" cy="125.7" rx="3.8" ry="4"/></g>
<text transform="translate(1879.55,95.76) scale(0.89,1)" font-size="24.17">WSAS ≤ 21</text>
<text transform="translate(1879.55,135.26) scale(0.89,1)" font-size="24.17">WSAS ≥ 21</text>
<path d="M1780.9 190.9L1853.9 190.9" fill="none" stroke="#000" stroke-width="1.7" />
<path d="M1908.1 190.9L1981.3 190.9" fill="none" stroke="#000" stroke-width="1.7" />
<text transform="translate(1800.14,189.65) scale(0.87,1)" font-size="32" font-weight="normal" stroke="#000" stroke-width="0.3">***</text>
<text transform="translate(1933.14,189.65) scale(0.87,1)" font-size="32" font-weight="normal" stroke="#000" stroke-width="0.3">***</text>
<text transform="translate(1641.47,96) scale(0.99,1)" font-size="37.82">III</text>
<text transform="translate(1655.7,410.79) rotate(-90) scale(0.92,1)" font-size="27.2">Proportion of right</text>
<text transform="translate(1683.2,357.74) rotate(-90) scale(0.91,1)" font-size="27.2">answers</text>
</g>
<g id="panelC">
<text transform="translate(0.17,659.83) scale(0.93,1)" font-size="41.7" stroke="#000" stroke-width="0.5">C</text>
<rect x="174.2" y="835.8" width="25.5" height="251.2" fill="#2ea02e"/>
<rect x="218.4" y="839.6" width="25.5" height="247.4" fill="#2ea02e"/>
<rect x="292.2" y="984.6" width="25.4" height="102.4" fill="#3a16e8"/>
<rect x="336.3" y="981.8" width="25.5" height="105.2" fill="#3a16e8"/>
<rect x="410.2" y="1061.9" width="25.6" height="25.1" fill="#848484"/>
<path fill="none" d="M410.2 1087L410.2 1061.9L435.8 1061.9L435.8 1087" stroke="#151515" stroke-width="1.35"/>
<path d="M408.2 1061.6L437.8 1061.6" fill="none" stroke="#151515" stroke-width="1.5" />
<rect x="454.3" y="1061" width="25.9" height="26" fill="#848484"/>
<path fill="none" d="M454.3 1087L454.3 1061L480.2 1061L480.2 1087" stroke="#151515" stroke-width="1.35"/>
<path d="M452.3 1060.7L482.2 1060.7" fill="none" stroke="#151515" stroke-width="1.5" />
<rect x="528.3" y="1024.6" width="25.4" height="62.4" fill="#f00a0a"/>
<rect x="572.4" y="1024.1" width="25.4" height="62.9" fill="#f00a0a"/>
<path d="M157.3 724.3L157.3 1088.5" fill="none" stroke="#222" stroke-width="1.6" />
<path d="M144.4 1087L616.8 1087" fill="none" stroke="#1c1c1c" stroke-width="1.4" />
<path d="M144.4 1087L157.3 1087" fill="none" stroke="#1c1c1c" stroke-width="1.4" />
<text transform="translate(109.07,1096.96) scale(0.8,1)" font-size="28.83" stroke="#000" stroke-width="0.5">0.0</text>
<path d="M144.4 996.5L157.3 996.5" fill="none" stroke="#1c1c1c" stroke-width="1.4" />
<text transform="translate(109.07,1006.46) scale(0.8,1)" font-size="28.83" stroke="#000" stroke-width="0.5">0.2</text>
<path d="M144.4 906L157.3 906" fill="none" stroke="#1c1c1c" stroke-width="1.4" />
<text transform="translate(109.09,915.96) scale(0.78,1)" font-size="28.83" stroke="#000" stroke-width="0.5">0.4</text>
<path d="M144.4 815.5L157.3 815.5" fill="none" stroke="#1c1c1c" stroke-width="1.4" />
<text transform="translate(109.08,825.46) scale(0.8,1)" font-size="28.83" stroke="#000" stroke-width="0.5">0.6</text>
<path d="M144.4 725L157.3 725" fill="none" stroke="#1c1c1c" stroke-width="1.4" />
<text transform="translate(109.08,734.96) scale(0.8,1)" font-size="28.83" stroke="#000" stroke-width="0.5">0.8</text>
<path d="M186.6 1087L186.6 1102.5" fill="none" stroke="#1c1c1c" stroke-width="1.4" />
<path d="M230.8 1087L230.8 1102.5" fill="none" stroke="#1c1c1c" stroke-width="1.4" />
<path d="M304.6 1087L304.6 1102.5" fill="none" stroke="#1c1c1c" stroke-width="1.4" />
<path d="M348.8 1087L348.8 1102.5" fill="none" stroke="#1c1c1c" stroke-width="1.4" />
<path d="M422.8 1087L422.8 1102.5" fill="none" stroke="#1c1c1c" stroke-width="1.4" />
<path d="M467 1087L467 1102.5" fill="none" stroke="#1c1c1c" stroke-width="1.4" />
<path d="M540.8 1087L540.8 1102.5" fill="none" stroke="#1c1c1c" stroke-width="1.4" />
<path d="M585.1 1087L585.1 1102.5" fill="none" stroke="#1c1c1c" stroke-width="1.4" />
<text transform="translate(157.1,1169.5) scale(0.83,1) rotate(-42)" font-size="27.5" stroke="#000" stroke-width="0.5">2020</text>
<text transform="translate(201.3,1169.5) scale(0.83,1) rotate(-42)" font-size="27.5" stroke="#000" stroke-width="0.5">2021</text>
<text transform="translate(275.1,1169.5) scale(0.83,1) rotate(-42)" font-size="27.5" stroke="#000" stroke-width="0.5">2020</text>
<text transform="translate(319.3,1169.5) scale(0.83,1) rotate(-42)" font-size="27.5" stroke="#000" stroke-width="0.5">2021</text>
<text transform="translate(393.3,1169.5) scale(0.83,1) rotate(-42)" font-size="27.5" stroke="#000" stroke-width="0.5">2020</text>
<text transform="translate(437.5,1169.5) scale(0.83,1) rotate(-42)" font-size="27.5" stroke="#000" stroke-width="0.5">2021</text>
<text transform="translate(511.3,1169.5) scale(0.83,1) rotate(-42)" font-size="27.5" stroke="#000" stroke-width="0.5">2020</text>
<text transform="translate(555.6,1169.5) scale(0.83,1) rotate(-42)" font-size="27.5" stroke="#000" stroke-width="0.5">2021</text>
<text transform="translate(53.7,985.94) rotate(-90) scale(1.1,1)" font-size="27.6">Proportion</text>
<text transform="translate(84.2,1029.01) rotate(-90) scale(1.11,1)" font-size="27.3">(pair of answers)</text>
<text transform="translate(33.35,721.9) scale(1.1,1)" font-size="37.09">I</text>
<rect x="533" y="715.1" width="25" height="13.7" fill="#2ea02e"/>
<rect x="533" y="764.7" width="25" height="13.9" fill="#3a16e8"/>
<rect x="533" y="814.7" width="25" height="13.9" fill="#848484"/>
<rect x="533" y="814.7" width="25" height="13.9" stroke="#333" stroke-width="1" fill="none"/>
<path d="M531 814.3L560 814.3" fill="none" stroke="#333" stroke-width="1.1" />
<rect x="533" y="863" width="25" height="14" fill="#f54848"/>
<text transform="translate(571.05,734.72) scale(0.9,1)" font-size="37.6">CC</text>
<text transform="translate(577.66,783.63) scale(0.94,1)" font-size="36.89">IC</text>
<text transform="translate(573.49,833.03) scale(0.96,1)" font-size="36.61">CI</text>
<text transform="translate(582.71,882) scale(0.98,1)" font-size="36.22">II</text>
<rect x="834.1" y="839.7" width="25.7" height="249.9" fill="#2ea02e"/>
<rect x="879" y="843" width="25.9" height="246.6" fill="#2ea02e"/>
<rect x="954.1" y="985.1" width="25.9" height="104.5" fill="#3a16e8"/>
<rect x="999.2" y="986.1" width="25.8" height="103.5" fill="#3a16e8"/>
<rect x="1074.4" y="1065.3" width="26.3" height="24.3" fill="#848484"/>
<path fill="none" d="M1074.4 1089.6L1074.4 1065.3L1100.7 1065.3L1100.7 1089.6" stroke="#151515" stroke-width="1.35"/>
<path d="M1072.4 1065L1102.7 1065" fill="none" stroke="#151515" stroke-width="1.5" />
<rect x="1119.3" y="1062.4" width="26.5" height="27.2" fill="#848484"/>
<path fill="none" d="M1119.3 1089.6L1119.3 1062.4L1145.8 1062.4L1145.8 1089.6" stroke="#151515" stroke-width="1.35"/>
<path d="M1117.3 1062.1L1147.8 1062.1" fill="none" stroke="#151515" stroke-width="1.5" />
<rect x="1195.1" y="1027.5" width="25.7" height="62.1" fill="#f21818"/>
<rect x="1240.2" y="1025.4" width="25.6" height="64.2" fill="#f21818"/>
<path d="M816.6 726.3L816.6 1091.1" fill="none" stroke="#222" stroke-width="1.3" />
<path d="M803.7 1089.6L1284.9 1089.6" fill="none" stroke="#1c1c1c" stroke-width="1.1" />
<path d="M803.7 1089.6L816.6 1089.6" fill="none" stroke="#1c1c1c" stroke-width="1.1" />
<text transform="translate(767.35,1099.56) scale(0.83,1)" font-size="28.83" stroke="#000" stroke-width="0.5">0.0</text>
<path d="M803.7 998.95L816.6 998.95" fill="none" stroke="#1c1c1c" stroke-width="1.1" />
<text transform="translate(767.35,1008.91) scale(0.83,1)" font-size="28.83" stroke="#000" stroke-width="0.5">0.2</text>
<path d="M803.7 908.3L816.6 908.3" fill="none" stroke="#1c1c1c" stroke-width="1.1" />
<text transform="translate(767.37,918.26) scale(0.81,1)" font-size="28.83" stroke="#000" stroke-width="0.5">0.4</text>
<path d="M803.7 817.65L816.6 817.65" fill="none" stroke="#1c1c1c" stroke-width="1.1" />
<text transform="translate(767.35,827.61) scale(0.83,1)" font-size="28.83" stroke="#000" stroke-width="0.5">0.6</text>
<path d="M803.7 727L816.6 727" fill="none" stroke="#1c1c1c" stroke-width="1.1" />
<text transform="translate(767.36,736.96) scale(0.82,1)" font-size="28.83" stroke="#000" stroke-width="0.5">0.8</text>
<path d="M846.6 1089.6L846.6 1105.3" fill="none" stroke="#1c1c1c" stroke-width="1.1" />
<path d="M891.9 1089.6L891.9 1105.3" fill="none" stroke="#1c1c1c" stroke-width="1.1" />
<path d="M966.8 1089.6L966.8 1105.3" fill="none" stroke="#1c1c1c" stroke-width="1.1" />
<path d="M1012 1089.6L1012 1105.3" fill="none" stroke="#1c1c1c" stroke-width="1.1" />
<path d="M1087.5 1089.6L1087.5 1105.3" fill="none" stroke="#1c1c1c" stroke-width="1.1" />
<path d="M1132.4 1089.6L1132.4 1105.3" fill="none" stroke="#1c1c1c" stroke-width="1.1" />
<path d="M1207.5 1089.6L1207.5 1105.3" fill="none" stroke="#1c1c1c" stroke-width="1.1" />
<path d="M1252.7 1089.6L1252.7 1105.3" fill="none" stroke="#1c1c1c" stroke-width="1.1" />
<text transform="translate(789.4,1205.7) scale(0.83,1) rotate(-44.2)" font-size="27.7" font-weight="normal" stroke="#000" stroke-width="1">GAD&lt;15</text>
<text transform="translate(834.7,1205.7) scale(0.83,1) rotate(-44.2)" font-size="27.7" font-weight="normal" stroke="#000" stroke-width="1">GAD&gt;15</text>
<text transform="translate(909.6,1205.7) scale(0.83,1) rotate(-44.2)" font-size="27.7" font-weight="normal" stroke="#000" stroke-width="1">GAD&lt;15</text>
<text transform="translate(954.8,1205.7) scale(0.83,1) rotate(-44.2)" font-size="27.7" font-weight="normal" stroke="#000" stroke-width="1">GAD&gt;15</text>
<text transform="translate(1030.3,1205.7) scale(0.83,1) rotate(-44.2)" font-size="27.7" font-weight="normal" stroke="#000" stroke-width="1">GAD&lt;15</text>
<text transform="translate(1075.2,1205.7) scale(0.83,1) rotate(-44.2)" font-size="27.7" font-weight="normal" stroke="#000" stroke-width="1">GAD&gt;15</text>
<text transform="translate(1150.3,1205.7) scale(0.83,1) rotate(-44.2)" font-size="27.7" font-weight="normal" stroke="#000" stroke-width="1">GAD&lt;15</text>
<text transform="translate(1195.5,1205.7) scale(0.83,1) rotate(-44.2)" font-size="27.7" font-weight="normal" stroke="#000" stroke-width="1">GAD&gt;15</text>
<text transform="translate(716.1,985.04) rotate(-90) scale(1.09,1)" font-size="27.6">Proportion</text>
<text transform="translate(747.3,1029.11) rotate(-90) scale(1.11,1)" font-size="27.3">(pair of answers)</text>
<text transform="translate(694.43,729.7) scale(1.01,1)" font-size="37.82">II</text>
<rect x="1196.1" y="715.3" width="25.1" height="13.5" fill="#2ea02e"/>
<rect x="1196.1" y="764.9" width="25.1" height="13.7" fill="#3a16e8"/>
<rect x="1196.1" y="814.9" width="25.1" height="13.7" fill="#848484"/>
<rect x="1196.1" y="814.9" width="25.1" height="13.7" stroke="#333" stroke-width="1" fill="none"/>
<path d="M1194.1 814.5L1223.2 814.5" fill="none" stroke="#333" stroke-width="1.1" />
<rect x="1196.1" y="863.2" width="25.1" height="13.8" fill="#f54848"/>
<text transform="translate(1233.94,734.72) scale(0.91,1)" font-size="37.6">CC</text>
<text transform="translate(1241.19,783.63) scale(0.93,1)" font-size="36.89">IC</text>
<text transform="translate(1236.59,833.03) scale(0.96,1)" font-size="36.61">CI</text>
<text transform="translate(1245.59,882) scale(0.99,1)" font-size="36.22">II</text>
<rect x="1529.3" y="844.9" width="27.7" height="240.9" fill="#2ea02e"/>
<rect x="1577.1" y="819.3" width="27.8" height="266.5" fill="#2ea02e"/>
<rect x="1657.1" y="980.5" width="27.6" height="105.3" fill="#3a16e8"/>
<rect x="1705.1" y="989" width="27.7" height="96.8" fill="#3a16e8"/>
<rect x="1784.6" y="1059.3" width="28.4" height="26.5" fill="#848484"/>
<path fill="none" d="M1784.6 1085.8L1784.6 1059.3L1813 1059.3L1813 1085.8" stroke="#151515" stroke-width="1.35"/>
<path d="M1782.6 1059L1815 1059" fill="none" stroke="#151515" stroke-width="1.5" />
<rect x="1832.4" y="1066.1" width="28.6" height="19.7" fill="#848484"/>
<path fill="none" d="M1832.4 1085.8L1832.4 1066.1L1861 1066.1L1861 1085.8" stroke="#151515" stroke-width="1.35"/>
<path d="M1830.4 1065.8L1863 1065.8" fill="none" stroke="#151515" stroke-width="1.5" />
<rect x="1912.3" y="1021.2" width="27.6" height="64.6" fill="#f54848"/>
<rect x="1960.6" y="1031.4" width="27.4" height="54.4" fill="#f54848"/>
<path d="M1511.1 725.2L1511.1 1087.3" fill="none" stroke="#222" stroke-width="1.6" />
<path d="M1497.2 1085.8L2006 1085.8" fill="none" stroke="#1c1c1c" stroke-width="1.4" />
<path d="M1497.2 1085.8L1511.1 1085.8" fill="none" stroke="#1c1c1c" stroke-width="1.4" />
<text transform="translate(1459.21,1095.76) scale(0.87,1)" font-size="28.83" stroke="#000" stroke-width="0.5">0.0</text>
<path d="M1497.2 995.82L1511.1 995.82" fill="none" stroke="#1c1c1c" stroke-width="1.4" />
<text transform="translate(1459.21,1005.79) scale(0.87,1)" font-size="28.83" stroke="#000" stroke-width="0.5">0.2</text>
<path d="M1497.2 905.85L1511.1 905.85" fill="none" stroke="#1c1c1c" stroke-width="1.4" />
<text transform="translate(1459.23,915.81) scale(0.85,1)" font-size="28.83" stroke="#000" stroke-width="0.5">0.4</text>
<path d="M1497.2 815.88L1511.1 815.88" fill="none" stroke="#1c1c1c" stroke-width="1.4" />
<text transform="translate(1459.21,825.84) scale(0.87,1)" font-size="28.83" stroke="#000" stroke-width="0.5">0.6</text>
<path d="M1497.2 725.9L1511.1 725.9" fill="none" stroke="#1c1c1c" stroke-width="1.4" />
<text transform="translate(1459.22,735.86) scale(0.87,1)" font-size="28.83" stroke="#000" stroke-width="0.5">0.8</text>
<path d="M1543.2 1085.8L1543.2 1101.4" fill="none" stroke="#1c1c1c" stroke-width="1.4" />
<path d="M1591 1085.8L1591 1101.4" fill="none" stroke="#1c1c1c" stroke-width="1.4" />
<path d="M1670.7 1085.8L1670.7 1101.4" fill="none" stroke="#1c1c1c" stroke-width="1.4" />
<path d="M1718.6 1085.8L1718.6 1101.4" fill="none" stroke="#1c1c1c" stroke-width="1.4" />
<path d="M1798.7 1085.8L1798.7 1101.4" fill="none" stroke="#1c1c1c" stroke-width="1.4" />
<path d="M1846.5 1085.8L1846.5 1101.4" fill="none" stroke="#1c1c1c" stroke-width="1.4" />
<path d="M1926.2 1085.8L1926.2 1101.4" fill="none" stroke="#1c1c1c" stroke-width="1.4" />
<path d="M1974.1 1085.8L1974.1 1101.4" fill="none" stroke="#1c1c1c" stroke-width="1.4" />
<text transform="translate(1466.9,1216.7) scale(0.89,1) rotate(-43.6)" font-size="28.5" font-weight="normal" stroke="#000" stroke-width="1">WSAS≤21</text>
<text transform="translate(1514.7,1216.7) scale(0.89,1) rotate(-43.6)" font-size="28.5" font-weight="normal" stroke="#000" stroke-width="1">WSAS≥21</text>
<text transform="translate(1594.4,1216.7) scale(0.89,1) rotate(-43.6)" font-size="28.5" font-weight="normal" stroke="#000" stroke-width="1">WSAS≤21</text>
<text transform="translate(1642.3,1216.7) scale(0.89,1) rotate(-43.6)" font-size="28.5" font-weight="normal" stroke="#000" stroke-width="1">WSAS≥21</text>
<text transform="translate(1722.4,1216.7) scale(0.89,1) rotate(-43.6)" font-size="28.5" font-weight="normal" stroke="#000" stroke-width="1">WSAS≤21</text>
<text transform="translate(1770.2,1216.7) scale(0.89,1) rotate(-43.6)" font-size="28.5" font-weight="normal" stroke="#000" stroke-width="1">WSAS≥21</text>
<text transform="translate(1849.9,1216.7) scale(0.89,1) rotate(-43.6)" font-size="28.5" font-weight="normal" stroke="#000" stroke-width="1">WSAS≤21</text>
<text transform="translate(1897.8,1216.7) scale(0.89,1) rotate(-43.6)" font-size="28.5" font-weight="normal" stroke="#000" stroke-width="1">WSAS≥21</text>
<text transform="translate(1399.3,983.35) rotate(-90) scale(1.1,1)" font-size="27.6">Proportion</text>
<text transform="translate(1430.2,1027.51) rotate(-90) scale(1.11,1)" font-size="27.3">(pair of answers)</text>
<text transform="translate(1369.46,730) scale(0.94,1)" font-size="38.25">III</text>
<rect x="1916.2" y="713.6" width="24.9" height="13.5" fill="#2ea02e"/>
<rect x="1916.2" y="762.8" width="24.9" height="13.8" fill="#3a16e8"/>
<rect x="1916.2" y="812.5" width="24.9" height="14" fill="#848484"/>
<rect x="1916.2" y="812.5" width="24.9" height="14" stroke="#333" stroke-width="1" fill="none"/>
<path d="M1914.2 812.1L1943.1 812.1" fill="none" stroke="#333" stroke-width="1.1" />
<rect x="1916.2" y="861" width="24.9" height="14" fill="#f54848"/>
<text transform="translate(1954.14,732.53) scale(0.92,1)" font-size="36.89">CC</text>
<text transform="translate(1961.69,782.13) scale(0.93,1)" font-size="36.75">IC</text>
<text transform="translate(1956.59,831.14) scale(0.97,1)" font-size="36.33">CI</text>
<text transform="translate(1965.59,880) scale(1,1)" font-size="35.78">II</text>
</g>
</svg>
</body></html>
